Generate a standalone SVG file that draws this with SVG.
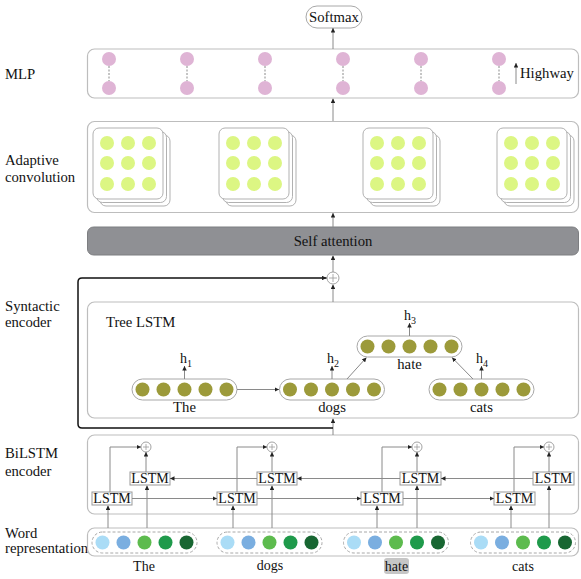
<svg xmlns="http://www.w3.org/2000/svg" width="581" height="579" viewBox="0 0 581 579" font-family="'Liberation Serif', 'Times New Roman', serif">
<style>
text{font-family:'Liberation Serif','Times New Roman',serif;font-size:14px;fill:#111}
.big{font-size:14.7px}
.box{fill:#fff;stroke:#bdbdbd;stroke-width:1.2}
.sq{fill:#fff;stroke:#a8a8a8;stroke-width:0.9}
.pk{fill:#dfb4d5}
.lm{fill:#dcf683}
.ol{fill:#9c9a3a}
.pill{fill:#fff;stroke:#a8a8a8;stroke-width:1}
.dpill{fill:#fff;stroke:#a8a8a8;stroke-width:1;stroke-dasharray:3 2}
.ln{fill:none;stroke:#8a8a8a;stroke-width:1}
.lstm{fill:#fff;stroke:#999;stroke-width:1}
.plus{fill:#fff;stroke:#999;stroke-width:0.9}
.c1{fill:#aadcf6}.c2{fill:#7aaee0}.c3{fill:#5dbb4e}.c4{fill:#1f9a4b}.c5{fill:#186632}
.mid{text-anchor:middle}
</style>
<defs>
<marker id="ah" viewBox="0 0 6 6" refX="6" refY="3" markerWidth="4.5" markerHeight="4.5" orient="auto" markerUnits="userSpaceOnUse"><path d="M0,0 L6,3 L0,6 z" fill="#222"/></marker>
</defs>
<rect width="581" height="579" fill="#fff"/>

<g id="labels">
<text x="5" y="79" class="big">MLP</text>
<text x="5" y="165" class="big">Adaptive</text>
<text x="5" y="182" class="big">convolution</text>
<text x="5" y="311" class="big">Syntactic</text>
<text x="5" y="327" class="big">encoder</text>
<text x="5" y="458" class="big">BiLSTM</text>
<text x="5" y="476" class="big">encoder</text>
<text x="5" y="538" class="big">Word</text>
<text x="5" y="553" class="big">representation</text>
</g>

<g id="softmax">
<rect x="306" y="6" width="56" height="22" rx="11" class="pill"/>
<text x="334" y="22" class="mid big">Softmax</text>
</g>

<g id="mlp">
<rect x="87.5" y="49" width="491" height="49" rx="7" class="box"/>
<g class="ln" stroke-dasharray="2 1.5">
<path d="M109,66V81M187,66V81M265,66V81M343,66V81M421,66V81M499,66V81"/>
</g>
<g class="pk">
<circle cx="109" cy="59" r="7"/><circle cx="109" cy="88" r="7"/>
<circle cx="187" cy="59" r="7"/><circle cx="187" cy="88" r="7"/>
<circle cx="265" cy="59" r="7"/><circle cx="265" cy="88" r="7"/>
<circle cx="343" cy="59" r="7"/><circle cx="343" cy="88" r="7"/>
<circle cx="421" cy="59" r="7"/><circle cx="421" cy="88" r="7"/>
<circle cx="499" cy="59" r="7"/><circle cx="499" cy="88" r="7"/>
</g>
<path d="M516,84V63" class="ln" stroke="#444" marker-end="url(#ah)"/>
<text x="520" y="78" class="big">Highway</text>
</g>

<g id="adaptive-conv">
<rect x="87.5" y="121.5" width="491" height="91" rx="7" class="box"/>
<g id="stack1">
<rect x="100" y="135" width="70" height="71" rx="6" class="sq"/>
<rect x="96.5" y="131.5" width="70" height="71" rx="6" class="sq"/>
<rect x="93" y="128" width="70" height="71" rx="6" class="sq"/>
<g class="lm"><circle cx="107" cy="143" r="7"/><circle cx="128" cy="143" r="7"/><circle cx="149" cy="143" r="7"/><circle cx="107" cy="163" r="7"/><circle cx="128" cy="163" r="7"/><circle cx="149" cy="163" r="7"/><circle cx="107" cy="184" r="7"/><circle cx="128" cy="184" r="7"/><circle cx="149" cy="184" r="7"/></g>
</g>
<g id="stack2">
<rect x="226" y="135" width="70" height="71" rx="6" class="sq"/>
<rect x="222.5" y="131.5" width="70" height="71" rx="6" class="sq"/>
<rect x="219" y="128" width="70" height="71" rx="6" class="sq"/>
<g class="lm"><circle cx="233" cy="143" r="7"/><circle cx="254" cy="143" r="7"/><circle cx="275" cy="143" r="7"/><circle cx="233" cy="163" r="7"/><circle cx="254" cy="163" r="7"/><circle cx="275" cy="163" r="7"/><circle cx="233" cy="184" r="7"/><circle cx="254" cy="184" r="7"/><circle cx="275" cy="184" r="7"/></g>
</g>
<g id="stack3">
<rect x="370" y="135" width="70" height="71" rx="6" class="sq"/>
<rect x="366.5" y="131.5" width="70" height="71" rx="6" class="sq"/>
<rect x="363" y="128" width="70" height="71" rx="6" class="sq"/>
<g class="lm"><circle cx="377" cy="143" r="7"/><circle cx="398" cy="143" r="7"/><circle cx="419" cy="143" r="7"/><circle cx="377" cy="163" r="7"/><circle cx="398" cy="163" r="7"/><circle cx="419" cy="163" r="7"/><circle cx="377" cy="184" r="7"/><circle cx="398" cy="184" r="7"/><circle cx="419" cy="184" r="7"/></g>
</g>
<g id="stack4">
<rect x="504" y="135" width="70" height="71" rx="6" class="sq"/>
<rect x="500.5" y="131.5" width="70" height="71" rx="6" class="sq"/>
<rect x="497" y="128" width="70" height="71" rx="6" class="sq"/>
<g class="lm"><circle cx="511" cy="143" r="7"/><circle cx="532" cy="143" r="7"/><circle cx="553" cy="143" r="7"/><circle cx="511" cy="163" r="7"/><circle cx="532" cy="163" r="7"/><circle cx="553" cy="163" r="7"/><circle cx="511" cy="184" r="7"/><circle cx="532" cy="184" r="7"/><circle cx="553" cy="184" r="7"/></g>
</g>
</g>

<g id="self-attention">
<rect x="87.5" y="227" width="491" height="28" rx="6" fill="#8f9094" stroke="#7d7e81" stroke-width="1"/>
<text x="333" y="246" class="mid big">Self attention</text>
</g>

<g id="plus-top">
<circle cx="333" cy="278" r="6" class="plus"/>
<path d="M329,278H337M333,274V282" stroke="#999" stroke-width="0.8"/>
</g>

<g id="tree-lstm">
<rect x="87.5" y="302" width="491" height="116" rx="7" class="box"/>
<text x="106" y="327" class="big">Tree LSTM</text>
</g>

<g id="node-the">
<rect x="132" y="379" width="105" height="21" rx="10.5" class="pill"/>
<g class="ol"><circle cx="142.5" cy="389.5" r="7"/><circle cx="163.5" cy="389.5" r="7"/><circle cx="184.5" cy="389.5" r="7"/><circle cx="205.5" cy="389.5" r="7"/><circle cx="226.5" cy="389.5" r="7"/></g>
<text x="184.5" y="412" class="mid big">The</text>
<text x="180" y="363">h<tspan font-size="10" dy="3.5">1</tspan></text>
</g>

<g id="node-dogs">
<rect x="279.5" y="379" width="105" height="21" rx="10.5" class="pill"/>
<g class="ol"><circle cx="290" cy="389.5" r="7"/><circle cx="311" cy="389.5" r="7"/><circle cx="332" cy="389.5" r="7"/><circle cx="353" cy="389.5" r="7"/><circle cx="374" cy="389.5" r="7"/></g>
<text x="332" y="412" class="mid big">dogs</text>
<text x="327" y="363">h<tspan font-size="10" dy="3.5">2</tspan></text>
</g>

<g id="node-hate">
<rect x="357" y="336" width="105" height="21" rx="10.5" class="pill"/>
<g class="ol"><circle cx="367.5" cy="346.5" r="7"/><circle cx="388.5" cy="346.5" r="7"/><circle cx="409.5" cy="346.5" r="7"/><circle cx="430.5" cy="346.5" r="7"/><circle cx="451.5" cy="346.5" r="7"/></g>
<text x="409.5" y="369" class="mid big">hate</text>
<text x="404" y="320">h<tspan font-size="10" dy="3.5">3</tspan></text>
</g>

<g id="node-cats">
<rect x="429" y="379" width="105" height="21" rx="10.5" class="pill"/>
<g class="ol"><circle cx="439.5" cy="389.5" r="7"/><circle cx="460.5" cy="389.5" r="7"/><circle cx="481.5" cy="389.5" r="7"/><circle cx="502.5" cy="389.5" r="7"/><circle cx="523.5" cy="389.5" r="7"/></g>
<text x="481.5" y="412" class="mid big">cats</text>
<text x="476" y="363">h<tspan font-size="10" dy="3.5">4</tspan></text>
</g>

<g id="bilstm">
<rect x="87.5" y="435" width="491" height="79" rx="7" class="box"/>
</g>

<g id="lstm-boxes">
<g id="lstm-f1"><rect x="92" y="492" width="40" height="13" class="lstm"/><text x="112" y="503" class="mid">LSTM</text></g>
<g id="lstm-b1"><rect x="130" y="472" width="40" height="13" class="lstm"/><text x="150" y="483" class="mid">LSTM</text></g>
<g id="lstm-f2"><rect x="217" y="492" width="40" height="13" class="lstm"/><text x="237" y="503" class="mid">LSTM</text></g>
<g id="lstm-b2"><rect x="257" y="472" width="40" height="13" class="lstm"/><text x="277" y="483" class="mid">LSTM</text></g>
<g id="lstm-f3"><rect x="361" y="492" width="42" height="13" class="lstm"/><text x="382" y="503" class="mid">LSTM</text></g>
<g id="lstm-b3"><rect x="400" y="472" width="41" height="13" class="lstm"/><text x="420.5" y="483" class="mid">LSTM</text></g>
<g id="lstm-f4"><rect x="494" y="492" width="41" height="13" class="lstm"/><text x="514.5" y="503" class="mid">LSTM</text></g>
<g id="lstm-b4"><rect x="533" y="472" width="41" height="13" class="lstm"/><text x="553.5" y="483" class="mid">LSTM</text></g>
</g>

<g id="bilstm-plus">
<circle cx="146" cy="447" r="5" class="plus"/><path d="M143,447H149M146,444V450" stroke="#999" stroke-width="0.8"/>
<circle cx="272" cy="447" r="5" class="plus"/><path d="M269,447H275M272,444V450" stroke="#999" stroke-width="0.8"/>
<circle cx="417" cy="447" r="5" class="plus"/><path d="M414,447H420M417,444V450" stroke="#999" stroke-width="0.8"/>
<circle cx="549" cy="447" r="5" class="plus"/><path d="M546,447H552M549,444V450" stroke="#999" stroke-width="0.8"/>
</g>

<g id="word-repr">
<rect x="87.5" y="528" width="491" height="28" rx="7" class="box"/>
<g id="word-the">
<rect x="92" y="532" width="105" height="21" rx="10.5" class="dpill"/>
<circle cx="102.5" cy="542.5" r="7" class="c1"/><circle cx="123.5" cy="542.5" r="7" class="c2"/><circle cx="144.5" cy="542.5" r="7" class="c3"/><circle cx="165.5" cy="542.5" r="7" class="c4"/><circle cx="186.5" cy="542.5" r="7" class="c5"/>
<text x="144" y="571" class="mid">The</text>
</g>
<g id="word-dogs">
<rect x="217" y="532" width="105" height="21" rx="10.5" class="dpill"/>
<circle cx="227.5" cy="542.5" r="7" class="c1"/><circle cx="248.5" cy="542.5" r="7" class="c2"/><circle cx="269.5" cy="542.5" r="7" class="c3"/><circle cx="290.5" cy="542.5" r="7" class="c4"/><circle cx="311.5" cy="542.5" r="7" class="c5"/>
<text x="270" y="570" class="mid">dogs</text>
</g>
<g id="word-hate">
<rect x="343.5" y="532" width="105" height="21" rx="10.5" class="dpill"/>
<circle cx="354" cy="542.5" r="7" class="c1"/><circle cx="375" cy="542.5" r="7" class="c2"/><circle cx="396" cy="542.5" r="7" class="c3"/><circle cx="417" cy="542.5" r="7" class="c4"/><circle cx="438" cy="542.5" r="7" class="c5"/>
<rect x="384" y="558" width="25" height="16" rx="3" fill="#c6c6c6"/>
<text x="396.5" y="571" class="mid">hate</text>
</g>
<g id="word-cats">
<rect x="470.5" y="532" width="105" height="21" rx="10.5" class="dpill"/>
<circle cx="481" cy="542.5" r="7" class="c1"/><circle cx="502" cy="542.5" r="7" class="c2"/><circle cx="523" cy="542.5" r="7" class="c3"/><circle cx="544" cy="542.5" r="7" class="c4"/><circle cx="565" cy="542.5" r="7" class="c5"/>
<text x="523" y="571" class="mid">cats</text>
</g>
</g>

<g id="connectors" class="ln" marker-end="url(#ah)">
<path d="M333,49V28"/>
<path d="M333,121V98.5"/>
<path d="M333,227V213"/>
<path d="M333,272V255.5"/>
<path d="M333,302V284.5"/>
<path d="M333,435V418.5"/>
<path d="M333,428H82Q78,428 78,424V282Q78,278 82,278H326.5" stroke="#111" stroke-width="1.5"/>
<path d="M237,389.5H279"/>
<path d="M347,379L366.5,357.5"/>
<path d="M473,379L452,357.5"/>
<path d="M184.5,379V366"/>
<path d="M332,379V366"/>
<path d="M409.5,336V323"/>
<path d="M481.5,379V366"/>
<path d="M108,528V505.5"/>
<path d="M147,528V485.5"/>
<path d="M233,528V505.5"/>
<path d="M272,528V485.5"/>
<path d="M377,528V505.5"/>
<path d="M417,528V485.5"/>
<path d="M511,528V505.5"/>
<path d="M549,528V485.5"/>
<path d="M110,492V447H141"/>
<path d="M146,472V452"/>
<path d="M237,492V447H267"/>
<path d="M272,472V452"/>
<path d="M382,492V447H412"/>
<path d="M417,472V452"/>
<path d="M514,492V447H544"/>
<path d="M549,472V452"/>
<path d="M132,498.5H217"/>
<path d="M257,498.5H361"/>
<path d="M403,498.5H494"/>
<path d="M257,478.5H170"/>
<path d="M400,478.5H297"/>
<path d="M533,478.5H441"/>
</g>
</svg>
